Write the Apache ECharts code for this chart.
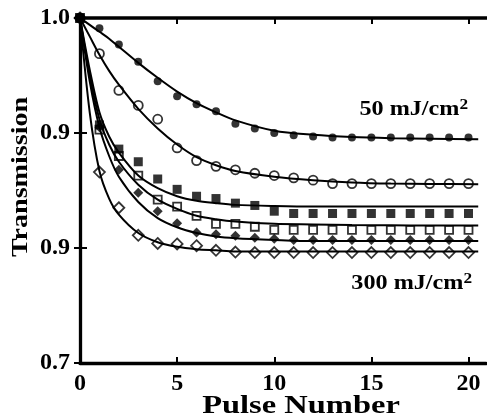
<!DOCTYPE html>
<html><head><meta charset="utf-8">
<script src="https://cdn.jsdelivr.net/npm/echarts@6/dist/echarts.min.js"></script>
<style>html,body{margin:0;padding:0;background:#fff}#c{width:487px;height:419px}</style>
</head><body><div id="c"></div>
<script>
// ---- data ----
const pulses = [0,1,2,3,4,5,6,7,8,9,10,11,12,13,14,15,16,17,18,19,20];
const xTicks = [0,5,10,15,20];
const yTickValues = [0.7,0.8,0.9,1.0];
const yTickLabels = ['0.7','0.9','0.9','1.0'];
const xTitle = 'Pulse Number';
const yTitle = 'Transmission';
const labelLow = '50 mJ/cm';
const labelHigh = '300 mJ/cm';

// measured points (filled circle = 50 mJ/cm2 ... open diamond = 300 mJ/cm2)
const filledCircle  = [1.0,0.991,0.977,0.962,0.945,0.932,0.925,0.919,0.908,0.904,0.900,0.898,0.897,0.896,0.896,0.896,0.896,0.896,0.896,0.896,0.896];
const openCircle    = [1.0,0.969,0.937,0.924,0.912,0.887,0.876,0.871,0.868,0.865,0.863,0.861,0.859,0.856,0.856,0.856,0.856,0.856,0.856,0.856,0.856];
const filledSquare  = [1.0,0.907,0.886,0.875,0.860,0.851,0.845,0.843,0.839,0.837,0.832,0.830,0.830,0.830,0.830,0.830,0.830,0.830,0.830,0.830,0.830];
const openSquare    = [1.0,0.903,0.880,0.863,0.842,0.836,0.828,0.821,0.821,0.8185,0.8157,0.8157,0.8157,0.8157,0.8157,0.8157,0.8157,0.8157,0.8157,0.8157,0.8157];
const filledDiamond = [1.0,0.905,0.868,0.848,0.832,0.8215,0.8135,0.812,0.8106,0.809,0.808,0.807,0.807,0.807,0.807,0.807,0.807,0.807,0.807,0.807,0.807];
const openDiamond   = [1.0,0.866,0.835,0.811,0.804,0.8035,0.802,0.798,0.7965,0.796,0.796,0.796,0.796,0.796,0.796,0.796,0.796,0.796,0.796,0.796,0.796];

// fitted curves
const fitX = [0,0.5,1,1.5,2,3,4,5,6,7,8,10,12,14,16,18,20.5];
const fitFilledCircle  = [1.0,0.994,0.988,0.982,0.975,0.961,0.948,0.936,0.926,0.918,0.911,0.902,0.8985,0.8965,0.8955,0.895,0.8945];
const fitOpenCircle    = [1.0,0.984,0.968,0.954,0.942,0.921,0.904,0.890,0.879,0.872,0.867,0.862,0.859,0.857,0.856,0.8557,0.8555];
const fitFilledSquare  = [1.0,0.955,0.918,0.897,0.883,0.863,0.852,0.845,0.841,0.839,0.8375,0.8365,0.836,0.836,0.836,0.836,0.836];
const fitOpenSquare    = [1.0,0.950,0.912,0.890,0.875,0.855,0.842,0.834,0.828,0.825,0.823,0.821,0.8205,0.820,0.8197,0.8195,0.8195];
const fitFilledDiamond = [1.0,0.945,0.905,0.880,0.862,0.840,0.826,0.818,0.813,0.810,0.8085,0.807,0.806,0.806,0.806,0.806,0.806];
const fitOpenDiamond   = [1.0,0.918,0.867,0.843,0.829,0.813,0.805,0.801,0.799,0.798,0.797,0.797,0.797,0.797,0.797,0.797,0.797];

// ---- chart ----
const FONT = '"Liberation Serif", "Times New Roman", Times, serif';
const pts = arr => pulses.map((n,i)=>[n,arr[i]]);
const fit = arr => fitX.map((n,i)=>[n,arr[i]]);
function lineSeries(arr){
  return {type:'line', data:fit(arr), smooth:0.3, showSymbol:false, symbol:'none',
    lineStyle:{color:'#000',width:2}, z:2, silent:true};
}
function scatter(arr, symbol, size, filled){
  return {type:'scatter', data:pts(arr), symbol:symbol, symbolSize:size, z:3,
    itemStyle: filled ? {color:'#000'} : {color:'rgba(255,255,255,0)', borderColor:'#000', borderWidth:1.8}};
}
const chart = echarts.init(document.getElementById('c'), null, {renderer:'canvas'});
const tickLabelStyle = {fontFamily:FONT, fontWeight:'bold', fontSize:24, color:'#000'};
chart.setOption({
  animation:false,
  backgroundColor:'#fff',
  grid:{left:80, right:1, top:18, bottom:56, containLabel:false},
  xAxis:[
    {type:'value', min:0, max:20.9, position:'bottom',
     axisLine:{lineStyle:{color:'#000', width:3.3}},
     axisTick:{inside:true, length:6, customValues:xTicks, lineStyle:{color:'#000', width:2}},
     axisLabel:Object.assign({customValues:xTicks, margin:9}, tickLabelStyle),
     splitLine:{show:false}},
    {type:'value', min:0, max:20.9, position:'top',
     axisLine:{lineStyle:{color:'#000', width:3.7}},
     axisTick:{inside:true, length:6, customValues:xTicks, lineStyle:{color:'#000', width:2}},
     axisLabel:{show:false}, splitLine:{show:false}}
  ],
  yAxis:[
    {type:'value', min:0.7, max:1.0, interval:0.1, position:'left',
     axisLine:{lineStyle:{color:'#000', width:3.3}},
     axisTick:{inside:true, length:7, customValues:yTickValues, lineStyle:{color:'#000', width:2}},
     axisLabel:Object.assign({customValues:yTickValues, margin:10,
       formatter:v=>{const i=yTickValues.findIndex(t=>Math.abs(t-v)<1e-6);return i<0?'':yTickLabels[i];}}, tickLabelStyle),
     splitLine:{show:false}},
    {type:'value', min:0.7, max:1.0, interval:0.1, position:'right',
     axisLine:{lineStyle:{color:'#000', width:1}},
     axisTick:{inside:true, length:6, customValues:yTickValues, lineStyle:{color:'#000', width:2}},
     axisLabel:{show:false}, splitLine:{show:false}}
  ],
  series:[
    lineSeries(fitFilledCircle), lineSeries(fitOpenCircle), lineSeries(fitFilledSquare),
    lineSeries(fitOpenSquare), lineSeries(fitFilledDiamond), lineSeries(fitOpenDiamond),
    scatter(filledCircle,'circle',8,true),
    scatter(openCircle,'circle',9,false),
    scatter(filledSquare,'rect',9,true),
    scatter(openSquare,'rect',8,false),
    scatter(filledDiamond,'diamond',10,true),
    scatter(openDiamond,'diamond',11,false)
  ],
  graphic:[
    {type:'text', x:301, y:407, scaleX:1.3, z:10,
     style:{text:xTitle, font:'bold 25px '+FONT, fill:'#000', align:'center', verticalAlign:'middle'}},
    {type:'text', x:21, y:177, rotation:Math.PI/2, scaleX:1.17, z:10,
     style:{text:yTitle, font:'bold 24px '+FONT, fill:'#000', align:'center', verticalAlign:'middle'}},
    {type:'text', x:468, y:110, scaleX:1.15, z:10,
     style:{text:'{a|'+labelLow+'}{s|2}', align:'right', verticalAlign:'middle',
       rich:{a:{fontFamily:FONT, fontWeight:'bold', fontSize:21, lineHeight:24, color:'#000'},
             s:{fontFamily:FONT, fontWeight:'bold', fontSize:15, lineHeight:15, verticalAlign:'top', color:'#000'}}}},
    {type:'text', x:472, y:284, scaleX:1.15, z:10,
     style:{text:'{a|'+labelHigh+'}{s|2}', align:'right', verticalAlign:'middle',
       rich:{a:{fontFamily:FONT, fontWeight:'bold', fontSize:21, lineHeight:24, color:'#000'},
             s:{fontFamily:FONT, fontWeight:'bold', fontSize:15, lineHeight:15, verticalAlign:'top', color:'#000'}}}}
  ]
});
</script>
</body></html>
